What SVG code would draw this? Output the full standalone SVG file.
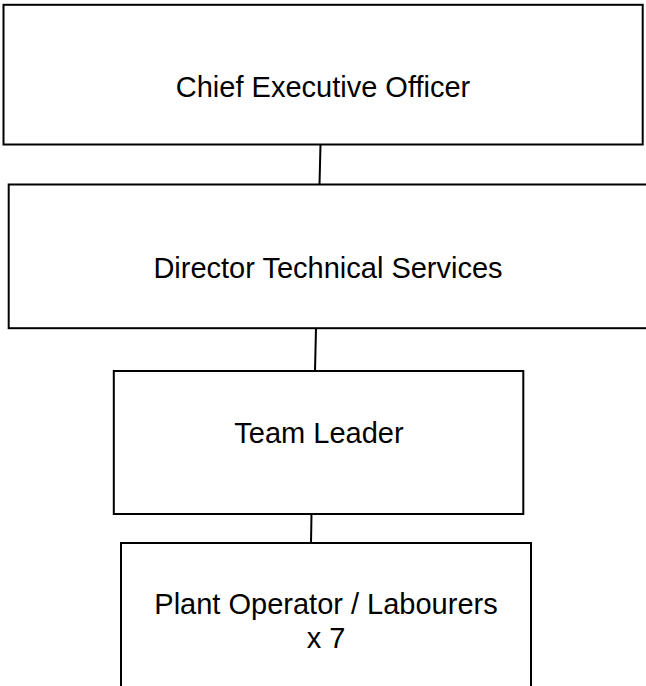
<svg xmlns="http://www.w3.org/2000/svg" width="646" height="686" viewBox="0 0 646 686">
  <style>
    .box { fill: #ffffff; stroke: #000000; stroke-width: 2; }
    .label { font-family: "Liberation Sans", Arial, sans-serif; font-size: 29px; fill: #000000; text-anchor: middle; }
    .link { stroke: #000000; stroke-width: 2; fill: none; }
  </style>
  <rect width="646" height="686" fill="#ffffff"/>

  <!-- reporting lines -->
  <g id="connectors">
    <line class="link" x1="320.5" y1="144.5" x2="319.5" y2="184.5"/>
    <line class="link" x1="316" y1="328.2" x2="315" y2="371"/>
    <line class="link" x1="311.5" y1="514" x2="311" y2="543"/>
  </g>

  <g id="ceo">
    <rect class="box" x="3.5" y="4.8" width="639.2" height="139.7"/>
    <text class="label" x="323" y="97">Chief Executive Officer</text>
  </g>

  <g id="director">
    <rect class="box" x="8.7" y="184.5" width="639" height="143.7"/>
    <text class="label" x="328" y="278">Director Technical Services</text>
  </g>

  <g id="team-leader">
    <rect class="box" x="113.8" y="371" width="409.5" height="143"/>
    <text class="label" x="319" y="443">Team Leader</text>
  </g>

  <g id="plant-operators">
    <rect class="box" x="121" y="543" width="410" height="160"/>
    <text class="label" x="326" y="614">Plant Operator / Labourers</text>
    <text class="label" x="326" y="648">x 7</text>
  </g>
</svg>
